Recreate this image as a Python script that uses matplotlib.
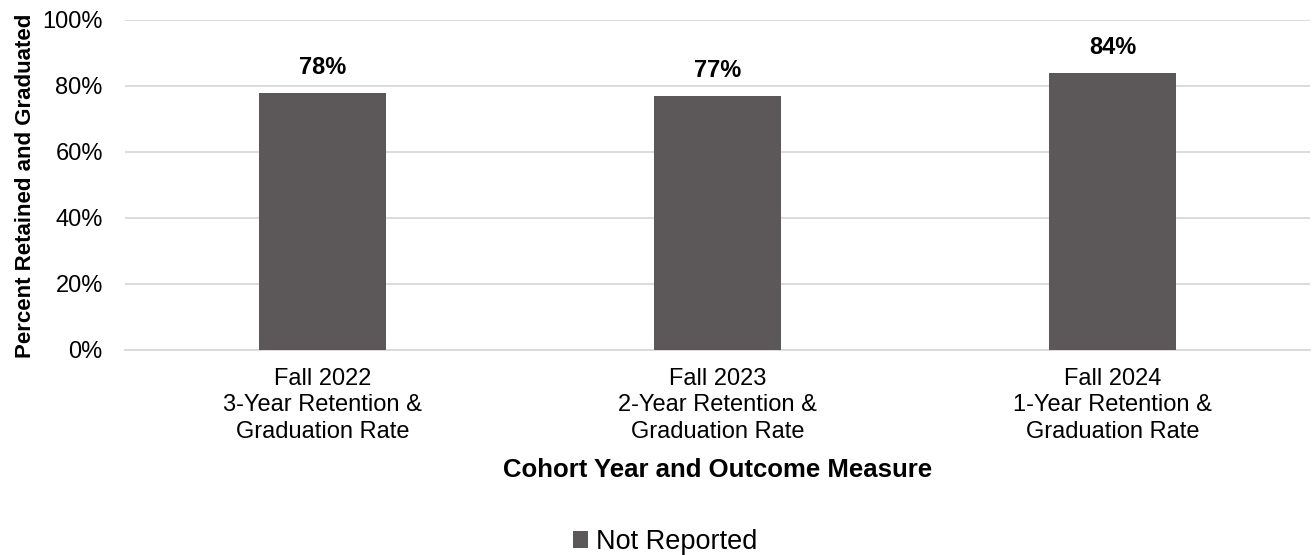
import matplotlib.pyplot as plt
from matplotlib.ticker import PercentFormatter

plt.rcParams['font.family'] = ['Liberation Sans', 'DejaVu Sans']

categories = ["Fall 2022\n3-Year Retention &\nGraduation Rate",
              "Fall 2023\n2-Year Retention &\nGraduation Rate",
              "Fall 2024\n1-Year Retention &\nGraduation Rate"]
not_reported = [78, 77, 84]
bar_color = '#5C5859'

fig = plt.figure(figsize=(13.13, 5.55), dpi=100)
ax = fig.add_axes([125 / 1313, 1 - 350 / 555, 1185 / 1313, 330 / 555])

x = range(len(categories))
bars = ax.bar(x, not_reported, width=0.32, color=bar_color, label='Not Reported', zorder=3)
for b, v in zip(bars, not_reported):
    ax.text(b.get_x() + b.get_width() / 2, v + 7.7, f"{v}%", ha='center', va='center',
            fontsize=17, fontweight='bold')

ax.set_xlim(-0.5, 2.5)
ax.set_ylim(0, 100)
ax.set_yticks(range(0, 101, 20))
ax.yaxis.set_major_formatter(PercentFormatter(decimals=0))
ax.set_xticks(list(x))
ax.set_xticklabels(categories, fontsize=17, linespacing=1.25)
ax.tick_params(axis='y', labelsize=17, length=0, pad=16)
ax.tick_params(axis='x', length=0, pad=13)
ax.grid(axis='y', color='#D9D9D9', linewidth=1.3, zorder=0)
for s in ['top', 'right', 'left']:
    ax.spines[s].set_visible(False)
ax.spines['bottom'].set_color('#D9D9D9')
ax.spines['bottom'].set_linewidth(1.3)

ax.set_xlabel('Cohort Year and Outcome Measure', fontsize=18.5, fontweight='bold')
ax.xaxis.set_label_coords(0.5, (350 - 458) / 330)
ax.set_ylabel('Percent Retained and Graduated', fontsize=16, fontweight='bold')
ax.yaxis.set_label_coords((36 - 125) / 1185, 0.497)

fig.legend(loc='center', bbox_to_anchor=(665 / 1313, 1 - 542 / 555), frameon=False,
           fontsize=19.5, handlelength=0.55, handleheight=0.55, handletextpad=0.3)

fig.savefig('out.png', dpi=100)
